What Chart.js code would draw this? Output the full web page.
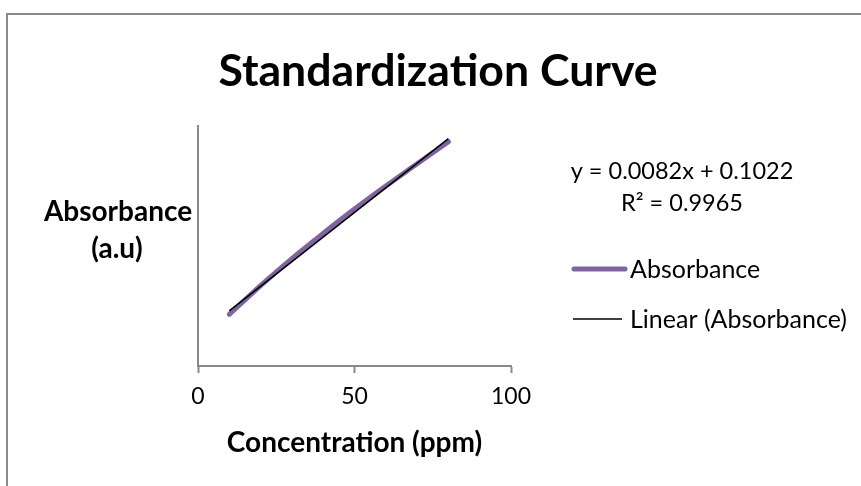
<!DOCTYPE html>
<html>
<head>
<meta charset="utf-8">
<script src="https://cdn.jsdelivr.net/npm/chart.js@4/dist/chart.umd.min.js"></script>
<style>
  html, body { margin: 0; padding: 0; background: #fff; overflow: hidden; width: 861px; height: 486px; }
  #wrap { position: absolute; left: 0; top: 0; width: 876px; height: 486px; }
  #frame { position: absolute; left: 6px; top: 13px; width: 900px; height: 600px; border: 2px solid #8a8a8a; box-sizing: border-box; pointer-events: none; }
  canvas { position: absolute; left: 0; top: 0; }
</style>
</head>
<body>
<div id="wrap">
  <canvas id="c" width="876" height="486"></canvas>
  <div id="frame"></div>
</div>
<script>
// ---- data ----
const concentration = [10, 20, 30, 40, 50, 60, 70, 80];
const absorbance = [0.172, 0.268, 0.358, 0.442, 0.523, 0.600, 0.674, 0.748];
const trendConcentration = [10, 80];
const trendAbsorbance = [0.184, 0.758];
const xTicks = [0, 50, 100];
const chartTitle = 'Standardization Curve';
const xTitle = 'Concentration (ppm)';
const yTitle = ['Absorbance', '(a.u)'];
const equationLines = ['y = 0.0082x + 0.1022', 'R² = 0.9965'];
const seriesNames = ['Absorbance', 'Linear (Absorbance)'];

const FONT = 'Lato, "Open Sans", sans-serif';

const overlay = {
  id: 'overlay',
  afterDraw(chart) {
    const ctx = chart.ctx;
    ctx.save();
    ctx.fillStyle = '#000';
    // y axis title (horizontal, Excel style)
    ctx.font = 'bold 28px ' + FONT;
    ctx.textAlign = 'center';
    ctx.textBaseline = 'middle';
    ctx.fillText(yTitle[0], 118, 212);
    ctx.fillText(yTitle[1], 117, 249);
    // trendline equation
    ctx.font = '23.5px ' + FONT;
    ctx.fillText(equationLines[0], 682, 171);
    ctx.fillText(equationLines[1], 682, 203);
    // legend
    const ds = chart.data.datasets;
    const rows = [269, 319];
    ds.forEach((d, i) => {
      ctx.beginPath();
      ctx.strokeStyle = d.borderColor;
      ctx.lineWidth = d.borderWidth;
      ctx.lineCap = d.borderCapStyle || 'butt';
      const x0 = i === 0 ? 574 : 573;
      const x1 = i === 0 ? 625 : 622;
      ctx.moveTo(x0, rows[i]);
      ctx.lineTo(x1, rows[i]);
      ctx.stroke();
      ctx.textAlign = 'left';
      ctx.fillStyle = '#000';
      ctx.font = '25px ' + FONT;
      ctx.fillText(d.label, 630, rows[i] + 1);
    });
    ctx.restore();
  }
};

new Chart(document.getElementById('c'), {
  type: 'scatter',
  data: {
    datasets: [
      {
        label: seriesNames[0],
        data: concentration.map((x, i) => ({ x, y: absorbance[i] })),
        showLine: true,
        borderColor: '#8064A2',
        backgroundColor: '#8064A2',
        borderWidth: 5,
        borderCapStyle: 'round',
        borderJoinStyle: 'round',
        pointRadius: 0,
        cubicInterpolationMode: 'monotone',
        order: 2
      },
      {
        label: seriesNames[1],
        data: trendConcentration.map((x, i) => ({ x, y: trendAbsorbance[i] })),
        showLine: true,
        borderColor: '#000000',
        backgroundColor: '#000000',
        borderWidth: 1.6,
        pointRadius: 0,
        tension: 0,
        order: 1
      }
    ]
  },
  options: {
    responsive: false,
    animation: false,
    devicePixelRatio: 1,
    layout: { padding: 0 },
    plugins: {
      legend: { display: false },
      tooltip: { enabled: false },
      title: {
        display: true,
        text: chartTitle,
        color: '#000',
        font: { family: FONT, size: 44.6, weight: 'bold', lineHeight: 1.2 },
        padding: { top: 45, bottom: 27.5 }
      }
    },
    scales: {
      x: {
        type: 'linear',
        min: 0, max: 100,
        afterBuildTicks(scale) { scale.ticks = xTicks.map(v => ({ value: v })); },
        grid: { display: true, drawOnChartArea: false, drawTicks: true, tickLength: 7, tickWidth: 2, tickColor: '#8a8a8a' },
        border: { display: true, color: '#8a8a8a', width: 2 },
        ticks: { color: '#000', font: { family: FONT, size: 23 }, padding: 10, maxRotation: 0 },
        title: { display: true, text: xTitle, color: '#000', font: { family: FONT, size: 28, weight: 'bold' }, padding: { top: 15, bottom: 26 } },
        afterFit(scale) { scale.height = 120; }
      },
      y: {
        type: 'linear',
        position: 'left',
        min: 0, max: 0.8,
        grid: { display: false, drawTicks: false },
        border: { display: true, color: '#8a8a8a', width: 2 },
        ticks: { display: false },
        afterFit(scale) { scale.width = 198; }
      },
      yRight: {
        type: 'linear',
        position: 'right',
        min: 0, max: 0.8,
        grid: { display: false, drawTicks: false },
        border: { display: false },
        ticks: { display: false },
        afterFit(scale) { scale.width = 365; }
      }
    }
  },
  plugins: [overlay]
});
</script>
</body>
</html>
